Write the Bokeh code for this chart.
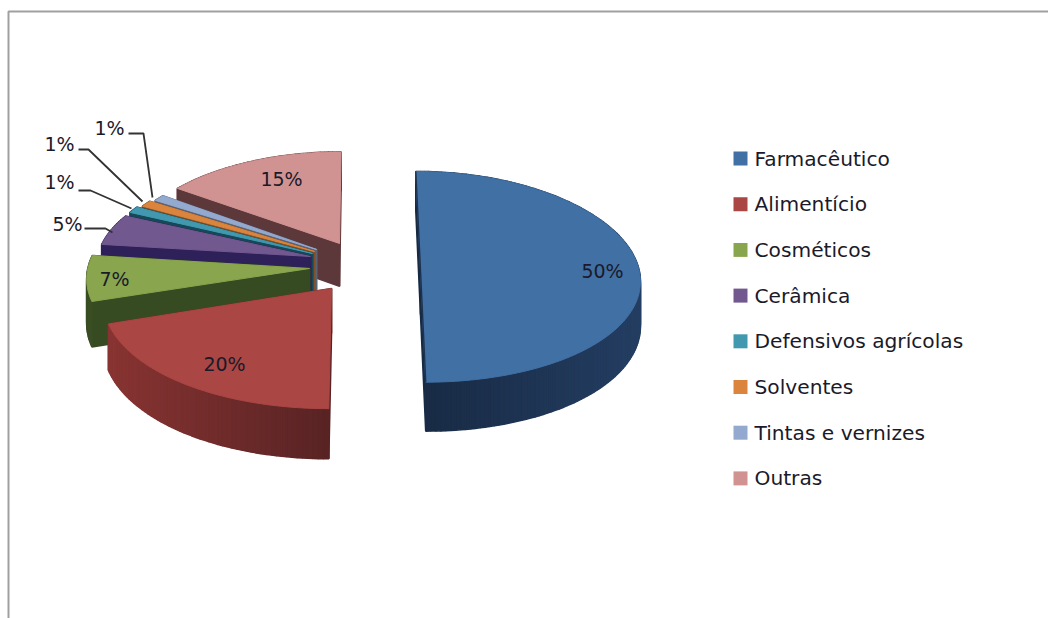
import numpy as np
from bokeh.embed import file_html
from bokeh.models import Range1d
from bokeh.plotting import figure
from bokeh.resources import INLINE
from bokeh.core.properties import value

# Market share by sector, in percent
categories = ["Farmacêutico", "Alimentício", "Cosméticos", "Cerâmica",
              "Defensivos agrícolas", "Solventes", "Tintas e vernizes", "Outras"]
shares = [50, 20, 7, 5, 1, 1, 1, 15]

top_colors = ["#4170A5", "#AA4643", "#89A54E", "#71588F", "#4198AF", "#DB843D", "#93A9CF", "#D19392"]
wall_near = [(24, 42, 68), (136, 52, 50), (58, 78, 36), (46, 32, 88), (22, 72, 88), (130, 80, 40), (90, 100, 120), (92, 56, 58)]
wall_far = [(36, 62, 98), (88, 35, 36), (52, 72, 32), (46, 32, 88), (22, 72, 88), (130, 80, 40), (90, 100, 120), (92, 56, 58)]

# Where each exploded slice has its tip on the page, and how far its rim reaches
tips = [(420, 270), (331, 288), (309, 268), (310, 256), (312, 253), (314, 251), (316, 249), (339, 243)]
reach_x = [0.985, 1.01, 1.0, 0.97, 0.96, 0.94, 0.92, 0.97]
reach_y = [1.0, 1.05, 1.0, 0.94, 0.96, 0.94, 0.92, 0.95]
painter_order = [7, 6, 5, 4, 3, 2, 1, 0]

RX, RY = 222.0, 105.0
THICKNESS = 44.0
HORIZON_Y, HORIZON_X, MID_Y, BEND = -1000.0, 360.0, 270.0, 0.00057

W, H = 1048, 618
p = figure(width=W, height=H, output_backend="svg", toolbar_location=None,
           x_range=Range1d(0, W), y_range=Range1d(H, 0), min_border=0)
p.axis.visible = False
p.grid.visible = False
p.outline_line_color = None
p.background_fill_color = "white"
p.border_fill_color = "white"


def project(x, y):
    v = y - MID_Y
    yy = MID_Y + v / (1 - BEND * v)
    xx = HORIZON_X + (x - HORIZON_X) * (yy - HORIZON_Y) / (MID_Y - HORIZON_Y)
    return xx, yy


def unproject(xx, yy):
    w = yy - MID_Y
    v = w / (1 + BEND * w)
    x = HORIZON_X + (xx - HORIZON_X) * (MID_Y - HORIZON_Y) / (yy - HORIZON_Y)
    return x, MID_Y + v


def mix(a, b, t):
    return "#%02x%02x%02x" % tuple(int(round(a[i] + (b[i] - a[i]) * t)) for i in range(3))


# Clockwise from twelve o'clock, as the percentages accumulate
edges = np.concatenate([[0], np.cumsum(shares)]) / sum(shares) * 2 * np.pi

for i in painter_order:
    fx, fy = unproject(*tips[i])
    th = np.linspace(edges[i], edges[i + 1], max(8, int(shares[i] * 3)))
    ox = np.concatenate([[fx], fx + RX * reach_x[i] * np.sin(th)])
    oy = np.concatenate([[fy], fy - RY * reach_y[i] * np.cos(th)])
    sx, sy = project(ox, oy)
    dz = THICKNESS * (1 + (sy - MID_Y) * 0.001)
    lo, hi = sx.min(), sx.max()

    quads = []
    n = len(sx)
    for k in range(n):
        m = (k + 1) % n
        quads.append(((sy[k] + sy[m]) / 2,
                      [sx[k], sx[m], sx[m], sx[k]],
                      [sy[k], sy[m], sy[m] + dz[m], sy[k] + dz[k]],
                      mix(wall_near[i], wall_far[i], ((sx[k] + sx[m]) / 2 - lo) / (hi - lo))))
    quads.sort(key=lambda q: q[0])
    p.patches([q[1] for q in quads], [q[2] for q in quads],
              fill_color=[q[3] for q in quads], line_color=[q[3] for q in quads], line_width=1.6)
    p.patch(list(sx), list(sy), fill_color=top_colors[i], line_color=top_colors[i], line_width=1)
    if i == 0:
        # Dark seam down the straight side of the half disc
        p.line([sx[-1], sx[0], sx[1]], [sy[-1], sy[0], sy[1]], line_color="#1E3350", line_width=1.4)

# Percentage labels
label_font = value("DejaVu Sans")
label_pos = [(602, 270), (224, 363), (114, 278), (67, 223), (59, 181), (59, 143), (109, 127), (281, 178)]
p.text([q[0] for q in label_pos], [q[1] for q in label_pos],
       text=[f"{s}%" for s in shares], text_font=label_font, text_font_size="19px",
       text_color="#1A1A2A", text_align="center", text_baseline="middle")

# Leader lines running from the small labels to their slices
leaders = {
    3: [(84, 228), (105, 228), (112, 232)],
    4: [(78, 190), (90, 190), (131, 208)],
    5: [(78, 149), (88, 149), (142, 201)],
    6: [(128, 133), (143, 133), (152, 197)],
}
for pts in leaders.values():
    p.line([q[0] for q in pts], [q[1] for q in pts], line_color="#333333", line_width=1.8)

# Legend
LEG_X, LEG_Y, LEG_STEP = 740, 158, 45.7
ly = [LEG_Y + k * LEG_STEP for k in range(len(categories))]
p.rect([LEG_X] * len(ly), ly, width=14, height=14, fill_color=top_colors, line_color=None)
p.text([LEG_X + 14] * len(ly), ly, text=categories, text_font=label_font, text_font_size="20.2px",
       text_color="#1A1A2A", text_align="left", text_baseline="middle")

# Thin grey frame along the top and left
p.line([8, 8, W], [H, 11, 11], line_color="#A0A0A0", line_width=2)

open("out.html", "w").write(file_html(p, INLINE))
